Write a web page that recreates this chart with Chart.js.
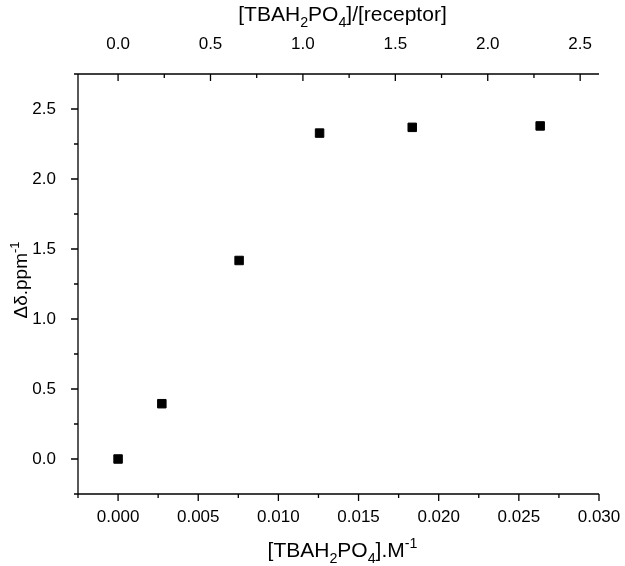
<!DOCTYPE html>
<html>
<head>
<meta charset="utf-8">
<script src="https://cdn.jsdelivr.net/npm/chart.js@4/dist/chart.umd.min.js"></script>
<style>
  html, body { margin: 0; padding: 0; background: #fff; }
  #wrap { width: 625px; height: 566px; }
</style>
</head>
<body>
<div id="wrap"><canvas id="myChart" width="625" height="566"></canvas></div>
<script>
// data
var conc = [0, 0.00273, 0.00755, 0.01257, 0.01835, 0.02633];   // [TBAH2PO4] / M
var shift = [0, 0.395, 1.418, 2.328, 2.369, 2.379];            // delta ppm
var receptorConc = 0.01153; // top axis = conc / receptorConc

var xTicks = [0, 0.005, 0.010, 0.015, 0.020, 0.025, 0.030];
var x2Ticks = [0, 0.5, 1.0, 1.5, 2.0, 2.5];
var yTicks = [0, 0.5, 1.0, 1.5, 2.0, 2.5];

var xMin = -0.0025, xMax = 0.030;
var yMin = -0.25, yMax = 2.75;

var FONT = "'Liberation Sans', Arial, sans-serif";

function isMult(v, step) {
  var r = v / step;
  return Math.abs(r - Math.round(r)) < 1e-6;
}

function setTicks(list) {
  return function (scale) {
    scale.ticks = list.map(function (v) { return { value: v }; });
  };
}

function fitH(h) {
  return function (s) {
    s.height = h;
    s.paddingLeft = 0;
    s.paddingRight = 0;
  };
}

// axis lines + major/minor tick marks
var axesPlugin = {
  id: "axesPlugin",
  afterDraw: function (chart) {
    var c = chart.ctx, a = chart.chartArea;
    var sx = chart.scales.x, sy = chart.scales.y, s2 = chart.scales.x2;
    c.save();
    c.strokeStyle = "#000";
    c.lineWidth = 1.3;
    c.beginPath();
    c.moveTo(a.left, a.top); c.lineTo(a.left, a.bottom);
    c.moveTo(a.left, a.bottom); c.lineTo(a.right, a.bottom);
    c.moveTo(a.left, a.top); c.lineTo(a.right, a.top);
    c.stroke();

    function ticks(scale, minor, major, fn) {
      var n0 = Math.ceil(scale.min / minor - 1e-9);
      var n1 = Math.floor(scale.max / minor + 1e-9);
      for (var n = n0; n <= n1; n++) {
        var v = n * minor;
        fn(scale.getPixelForValue(v), isMult(v, major) ? 7 : 4);
      }
    }
    c.beginPath();
    ticks(sx, 0.0025, 0.005, function (p, l) { c.moveTo(p, a.bottom); c.lineTo(p, a.bottom + l); });
    ticks(sy, 0.25, 0.5, function (p, l) { c.moveTo(a.left, p); c.lineTo(a.left - l, p); });
    ticks(s2, 0.25, 0.5, function (p, l) { c.moveTo(p, a.top); c.lineTo(p, a.top + l); });
    c.stroke();
    c.restore();
  }
};

// axis titles with sub/superscripts
function drawRich(c, runs, size) {
  var w = 0;
  runs.forEach(function (r) {
    var s = r[1] ? size * 0.68 : size;
    c.font = s + "px " + FONT;
    r.w = c.measureText(r[0]).width;
    w += r.w;
  });
  var x = -w / 2;
  runs.forEach(function (r) {
    var s = r[1] ? size * 0.68 : size;
    var dy = r[1] === "sub" ? size * 0.3 : (r[1] === "sup" ? -size * 0.42 : 0);
    c.font = s + "px " + FONT;
    c.fillText(r[0], x, dy);
    x += r.w;
  });
}

var titlePlugin = {
  id: "titlePlugin",
  afterDraw: function (chart) {
    var c = chart.ctx, a = chart.chartArea;
    var cx = (a.left + a.right) / 2 + 4;
    c.save();
    c.fillStyle = "#000";
    c.textBaseline = "alphabetic";
    c.textAlign = "left";

    c.save();
    c.translate(cx, 557);
    drawRich(c, [["[TBAH"], ["2", "sub"], ["PO"], ["4", "sub"], ["].M"], ["-1", "sup"]], 21);
    c.restore();

    c.save();
    c.translate(cx, 21);
    drawRich(c, [["[TBAH"], ["2", "sub"], ["PO"], ["4", "sub"], ["]/[receptor]"]], 21);
    c.restore();

    c.save();
    c.translate(27, 280);
    c.rotate(-Math.PI / 2);
    drawRich(c, [["\u0394\u03b4.ppm"], ["-1", "sup"]], 19);
    c.restore();

    c.restore();
  }
};

var points = conc.map(function (x, i) { return { x: x, y: shift[i] }; });

var ctx = document.getElementById("myChart");
var myChart = new Chart(ctx, {
  type: "scatter",
  data: {
    datasets: [
      {
        label: "shift",
        data: points,
        pointStyle: "rect",
        pointRadius: 6,
        pointHoverRadius: 6,
        pointBorderWidth: 1,
        backgroundColor: "#000",
        borderColor: "#000",
      },
    ],
  },
  options: {
    responsive: false,
    animation: false,
    layout: { padding: { left: 0, right: 26, top: 0, bottom: 0 } },
    plugins: {
      legend: { display: false },
      tooltip: { enabled: false },
    },
    scales: {
      x: {
        type: "linear",
        position: "bottom",
        min: xMin,
        max: xMax,
        border: { display: false },
        grid: { display: false, drawTicks: false },
        ticks: {
          padding: 13,
          color: "#000",
          font: { family: FONT, size: 17 },
          maxRotation: 0,
          autoSkip: false,
          callback: function (v) { return v.toFixed(3); },
        },
        afterBuildTicks: setTicks(xTicks),
        afterFit: fitH(72),
      },
      x2: {
        type: "linear",
        position: "top",
        min: xMin / receptorConc,
        max: xMax / receptorConc,
        border: { display: false },
        grid: { display: false, drawTicks: false },
        ticks: {
          padding: 19,
          color: "#000",
          font: { family: FONT, size: 17 },
          maxRotation: 0,
          autoSkip: false,
          callback: function (v) { return v.toFixed(1); },
        },
        afterBuildTicks: setTicks(x2Ticks),
        afterFit: fitH(74),
      },
      y: {
        type: "linear",
        min: yMin,
        max: yMax,
        border: { display: false },
        grid: { display: false, drawTicks: false },
        ticks: {
          padding: 22,
          color: "#000",
          font: { family: FONT, size: 17 },
          autoSkip: false,
          callback: function (v) { return v.toFixed(1); },
        },
        afterBuildTicks: setTicks(yTicks),
        afterFit: function (s) { s.width = 78; s.paddingTop = 0; s.paddingBottom = 0; },
      },
    },
  },
  plugins: [axesPlugin, titlePlugin],
});
</script>
</body>
</html>
